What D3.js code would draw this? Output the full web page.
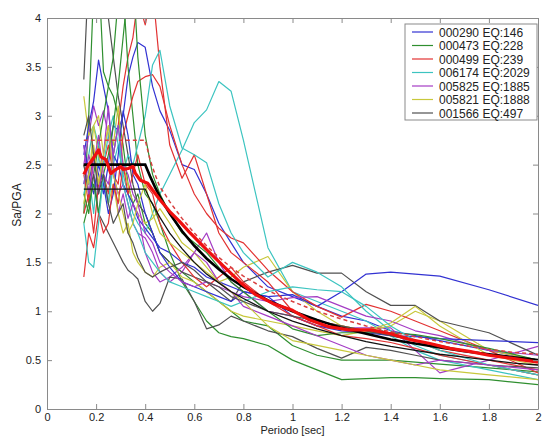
<!DOCTYPE html>
<html><head><meta charset="utf-8">
<script src="https://cdn.jsdelivr.net/npm/d3@7"></script>
<style>body{margin:0;background:#fff}svg{display:block}text{font-family:"Liberation Sans",Arial,sans-serif}</style>
</head><body>
<script>
// ---- data ----
const periods = [0.15,0.17,0.19,0.21,0.23,0.25,0.27,0.29,0.31,0.33,0.35,0.37,0.40,0.43,0.46,0.50,0.55,0.60,0.65,0.70,0.75,0.80,0.90,1.0,1.1,1.2,1.3,1.4,1.5,1.6,1.8,2.0];
const seriesNames = ["000290 EQ:146","000473 EQ:228","000499 EQ:239","006174 EQ:2029","005825 EQ:1885","005821 EQ:1888","001566 EQ:497"];
const seriesColors = ["#3232d2","#2f8f2f","#e23232","#3cc4c0","#a43cc4","#c8c83c","#505050"];
// three records per colour group
const blue1 = [2.5,2.3,2.6,2.4,2.2,2.5,2.9,2.85,3.0,3.4,3.6,3.75,3.7,3.3,3.05,2.85,2.5,2.45,2.2,1.9,1.7,1.5,1.25,1.15,1.05,0.95,0.9,0.8,0.75,0.7,0.6,0.5];
const blue2 = [2.6,2.9,3.15,3.57,3.3,3.05,2.6,2.5,2.3,2.2,2.1,1.95,1.85,1.75,1.65,1.6,1.5,1.45,1.35,1.3,1.25,1.2,1.15,1.17,1.05,1.2,1.38,1.4,1.38,1.36,1.22,1.06];
const blue3 = [2.7,2.4,2.2,2.5,2.3,2.0,2.2,2.6,3.05,2.8,2.4,2.3,2.0,1.8,1.6,1.45,1.3,1.25,1.2,1.15,1.1,1.2,1.15,0.95,0.85,0.8,0.78,0.75,0.74,0.72,0.7,0.68];
const green1 = [2.0,3.0,4.3,4.5,3.45,3.3,3.2,3.0,2.7,2.3,2.1,2.2,1.9,1.8,1.6,1.5,1.4,1.3,1.2,1.1,1.0,0.9,0.85,0.65,0.55,0.5,0.5,0.5,0.48,0.46,0.42,0.38];
const green2 = [2.2,2.0,2.4,2.7,3.0,3.3,3.6,4.2,4.3,3.5,3.0,2.5,2.2,2.1,1.9,1.6,1.3,1.1,0.9,0.78,0.74,0.72,0.65,0.5,0.4,0.3,0.31,0.32,0.32,0.31,0.3,0.25];
const green3 = [1.9,2.1,2.3,2.0,2.4,2.6,2.9,3.3,3.8,4.3,4.5,3.6,2.8,2.4,2.2,2.0,1.8,1.7,1.6,1.45,1.3,1.2,1.0,0.82,0.75,0.78,0.78,0.78,0.76,0.72,0.62,0.5];
const red1 = [2.0,2.2,1.8,2.3,2.4,2.2,2.6,2.9,3.3,3.6,3.8,4.2,3.93,4.3,3.5,2.7,2.36,2.6,2.2,1.8,1.6,1.5,1.3,1.0,0.9,0.85,0.8,0.75,0.7,0.6,0.5,0.4];
const red2 = [2.4,2.1,2.6,2.3,2.5,2.7,2.4,2.3,2.8,3.0,3.2,3.35,3.4,3.42,3.3,2.9,2.5,2.2,2.0,1.85,1.75,1.7,1.42,1.2,1.05,0.94,1.07,1.0,0.9,0.8,0.6,0.37];
const red3 = [1.35,1.8,1.65,2.0,1.8,1.9,2.3,2.1,2.5,2.2,2.4,2.6,2.3,2.2,1.9,1.7,1.5,1.35,1.25,1.35,1.45,1.3,1.1,0.95,0.85,0.75,0.72,0.68,0.62,0.55,0.45,0.35];
const cyan1 = [2.2,2.4,2.0,2.6,2.3,2.1,2.5,2.7,2.4,2.2,2.0,1.9,1.8,2.0,2.2,2.4,2.65,2.93,3.06,3.35,3.25,2.75,1.65,1.2,1.1,1.0,0.9,0.75,0.6,0.5,0.4,0.3];
const cyan2 = [2.3,2.6,2.9,2.7,2.5,2.8,3.0,2.7,2.4,2.6,2.5,2.7,3.0,3.52,3.67,3.1,2.67,2.6,2.52,2.1,1.8,1.6,1.35,1.5,1.4,1.25,1.0,0.8,0.65,0.55,0.45,0.35];
const cyan3 = [1.9,1.5,1.45,1.9,2.4,2.1,2.6,2.9,2.3,2.1,1.9,1.8,1.6,1.5,1.4,1.3,1.25,1.2,1.15,1.1,1.05,1.1,1.2,1.25,1.22,1.2,1.05,0.85,0.7,0.6,0.45,0.35];
const purple1 = [2.5,2.8,3.1,2.9,3.05,2.8,2.4,2.2,2.3,2.1,1.9,1.8,1.75,1.6,1.4,1.3,1.4,1.6,1.8,1.5,1.3,1.2,1.0,0.95,0.85,0.83,0.83,0.83,0.6,0.37,0.5,0.64];
const purple2 = [2.3,2.6,2.4,2.2,2.6,3.1,2.5,2.0,2.2,1.95,2.1,2.0,1.6,1.4,1.3,1.35,1.45,1.6,1.5,1.3,1.2,1.15,1.1,1.14,1.15,1.05,0.95,0.9,0.8,0.75,0.6,0.55];
const purple3 = [2.7,2.2,2.5,2.8,2.4,2.3,2.6,2.9,2.5,2.4,2.2,2.1,1.8,1.7,1.5,1.4,1.3,1.25,1.3,1.25,1.2,1.05,0.95,0.85,0.75,0.65,0.55,0.5,0.45,0.5,0.45,0.4];
const yellow1 = [3.2,2.8,2.9,3.0,2.6,2.9,2.7,3.1,2.5,2.3,2.1,2.0,1.9,1.95,2.05,1.9,1.7,1.6,1.45,1.3,1.35,1.45,1.56,1.2,1.0,0.85,0.8,0.85,1.0,0.9,0.6,0.5];
const yellow2 = [2.5,2.3,2.9,2.6,2.4,2.1,2.3,2.0,1.8,1.9,1.6,1.5,1.4,1.35,1.45,1.5,1.35,1.3,1.2,1.1,1.0,0.95,0.9,0.85,0.8,0.75,0.8,0.88,1.05,0.85,0.55,0.45];
const yellow3 = [2.1,2.4,2.7,2.3,2.6,2.9,2.4,2.2,2.0,1.8,1.9,2.1,2.3,2.0,1.8,1.7,1.6,1.5,1.4,1.3,1.2,1.1,0.85,0.7,0.65,0.6,0.55,0.5,0.45,0.4,0.35,0.3];
const gray1 = [3.37,4.5,4.8,4.6,4.3,4.0,3.6,3.2,2.9,2.6,2.3,2.1,2.0,1.8,1.6,1.5,1.4,1.35,1.3,1.2,1.1,1.3,1.4,1.47,1.39,1.39,1.2,1.06,1.06,0.9,0.78,0.55];
const gray2 = [2.5,2.2,2.4,2.0,1.9,1.8,1.7,1.6,1.5,1.42,1.38,1.33,1.1,1.0,1.08,1.35,1.33,1.1,0.82,0.86,0.95,0.9,0.8,0.74,0.62,0.52,0.63,0.6,0.55,0.5,0.45,0.42];
const gray3 = [2.8,3.0,2.6,2.2,2.4,2.1,1.9,2.0,2.1,1.8,1.7,1.55,1.4,1.35,1.4,1.45,1.5,1.42,1.3,1.25,1.15,1.1,1.0,0.95,0.9,0.85,0.8,0.75,0.7,0.65,0.55,0.48];
const records = [
  {g:0,v:blue1},{g:1,v:green1},{g:2,v:red1},{g:3,v:cyan1},{g:4,v:purple1},{g:5,v:yellow1},{g:6,v:gray1},
  {g:0,v:blue2},{g:1,v:green2},{g:2,v:red2},{g:3,v:cyan2},{g:4,v:purple2},{g:5,v:yellow2},{g:6,v:gray2},
  {g:0,v:blue3},{g:1,v:green3},{g:2,v:red3},{g:3,v:cyan3},{g:4,v:purple3},{g:5,v:yellow3},{g:6,v:gray3}
];
// mean spectrum
const meanT = [0.15,0.17,0.19,0.21,0.22,0.24,0.25,0.26,0.28,0.30,0.31,0.33,0.35,0.36,0.38,0.41,0.43,0.46,0.50,0.54,0.58,0.65,0.72,0.79,0.85,0.92,1.0,1.07,1.15,1.23,1.32,1.40,1.48,1.56,1.64,1.72,1.80,1.89,2.0];
const meanV = [2.40,2.50,2.57,2.65,2.58,2.55,2.48,2.41,2.45,2.48,2.45,2.46,2.48,2.41,2.34,2.31,2.24,2.14,2.02,1.92,1.81,1.63,1.46,1.29,1.17,1.08,1.01,0.91,0.84,0.81,0.81,0.77,0.71,0.67,0.62,0.59,0.55,0.52,0.48];
// design spectra
const designT = [0.15,0.4,0.42,0.44,0.46,0.48,0.5,0.55,0.6,0.65,0.7,0.75,0.8,0.9,1.0,1.1,1.2,1.3,1.4,1.5,1.6,1.7,1.8,1.9,2.0];
const designV = [2.5,2.5,2.38,2.27,2.17,2.08,2.0,1.82,1.67,1.54,1.43,1.33,1.25,1.11,1.0,0.91,0.83,0.77,0.71,0.67,0.63,0.59,0.56,0.53,0.5];
const designLow = [2.25,2.25,2.14,2.05,1.96,1.88,1.8,1.64,1.5,1.38,1.29,1.2,1.13,1.0,0.9,0.82,0.75,0.69,0.64,0.6,0.56,0.53,0.5,0.47,0.45];
const designHigh = [2.75,2.75,2.55,2.4,2.27,2.2,2.12,1.95,1.8,1.67,1.55,1.45,1.36,1.21,1.1,1.0,0.92,0.85,0.79,0.74,0.69,0.65,0.61,0.58,0.56];
const xTicks = [0,0.2,0.4,0.6,0.8,1,1.2,1.4,1.6,1.8,2];
const yTicks = [0,0.5,1,1.5,2,2.5,3,3.5,4];

// ---- drawing ----
const W=542,H=437;
const L=47,R=538,T=18,B=409;
const svg=d3.select("body").append("svg").attr("width",W).attr("height",H);
const x=d3.scaleLinear().domain([0,2]).range([L,R]);
const y=d3.scaleLinear().domain([0,4]).range([B,T]);

svg.append("defs").append("clipPath").attr("id","clip").append("rect")
  .attr("x",L).attr("y",T).attr("width",R-L).attr("height",B-T);
const plot=svg.append("g").attr("clip-path","url(#clip)");

const line=d3.line().x(d=>x(d[0])).y(d=>y(d[1]));
records.forEach(r=>{
  plot.append("path").attr("d",line(periods.map((t,i)=>[t,r.v[i]])))
    .attr("fill","none").attr("stroke",seriesColors[r.g]).attr("stroke-width",1.2)
    .attr("stroke-linejoin","round");
});
plot.append("path").attr("d",line(designT.map((t,i)=>[t,designLow[i]])))
  .attr("fill","none").attr("stroke","#111").attr("stroke-width",1.3);
plot.append("path").attr("d",line(designT.map((t,i)=>[t,designHigh[i]])))
  .attr("fill","none").attr("stroke","#d84040").attr("stroke-width",1.5).attr("stroke-dasharray","4,3");
plot.append("path").attr("d",line(designT.map((t,i)=>[t,designV[i]])))
  .attr("fill","none").attr("stroke","#000").attr("stroke-width",2.6);
plot.append("path").attr("d",line(meanT.map((t,i)=>[t,meanV[i]])))
  .attr("fill","none").attr("stroke","#f01010").attr("stroke-width",3.2).attr("stroke-linejoin","round");

// axes
const axCol="#8a8a8a";
function styleAxis(g){g.select(".domain").attr("stroke",axCol);g.selectAll(".tick line").attr("stroke",axCol);
  g.selectAll("text").attr("fill","#222").style("font-size","11px");}
svg.append("g").attr("transform",`translate(0,${B})`)
  .call(d3.axisBottom(x).tickValues(xTicks).tickFormat(d3.format("~g")).tickSizeInner(-5).tickSizeOuter(0).tickPadding(4)).call(styleAxis);
svg.append("g").attr("transform",`translate(${L},0)`)
  .call(d3.axisLeft(y).tickValues(yTicks).tickFormat(d3.format("~g")).tickSizeInner(-5).tickSizeOuter(0).tickPadding(6)).call(styleAxis);
svg.append("g").attr("transform",`translate(0,${T})`)
  .call(d3.axisTop(x).tickValues(xTicks).tickFormat("").tickSizeInner(-5).tickSizeOuter(0)).call(styleAxis);
svg.append("g").attr("transform",`translate(${R},0)`)
  .call(d3.axisRight(y).tickValues(yTicks).tickFormat("").tickSizeInner(-5).tickSizeOuter(0)).call(styleAxis);

svg.append("text").attr("x",(L+R)/2).attr("y",434).attr("text-anchor","middle")
  .style("font-size","11px").attr("fill","#222").text("Periodo [sec]");
svg.append("text").attr("transform","translate(21,205) rotate(-90)").attr("text-anchor","middle")
  .style("font-size","12px").attr("fill","#222").text("Sa/PGA");

// legend
const lg=svg.append("g");
lg.append("rect").attr("x",405).attr("y",24).attr("width",132).attr("height",96)
  .attr("fill","#fff").attr("stroke",axCol);
seriesNames.forEach((n,i)=>{
  const yy=32+i*13.5;
  lg.append("line").attr("x1",412).attr("x2",433).attr("y1",yy).attr("y2",yy)
    .attr("stroke",seriesColors[i]).attr("stroke-width",1.2);
  lg.append("text").attr("x",439).attr("y",yy+4.5).style("font-size","12px").attr("fill","#222").text(n);
});
</script>
</body></html>
